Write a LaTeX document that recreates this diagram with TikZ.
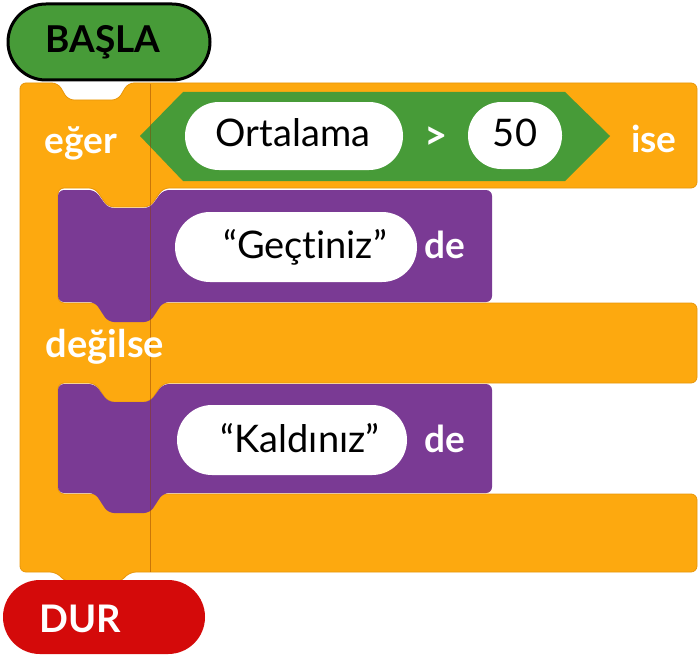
\documentclass[tikz,border=0pt]{standalone}
\usepackage{fontspec}
\setmainfont{Lato}[Ligatures={TeX,NoCommon}]
\definecolor{orangeC}{HTML}{FDA90F}
\definecolor{orangeB}{HTML}{E8960A}
\definecolor{purpleC}{HTML}{7A3A94}
\definecolor{greenC}{HTML}{479B38}
\definecolor{redC}{HTML}{D40A0A}
\definecolor{divC}{HTML}{8A3A00}
\tikzset{
  wlbl/.style={text=white, font=\fontsize{37}{42}\selectfont\bfseries, inner sep=0pt, anchor=base},
  blbl/.style={text=black, font=\fontsize{38}{42}\selectfont, inner sep=0pt, anchor=base},
  pill/.style={fill=white},
}
\begin{document}
\begin{tikzpicture}[x=1pt,y=-1pt]
\useasboundingbox (0,0) rectangle (700,658);
% orange C block
\fill[orangeC, draw=orangeB, line width=0.8pt, rounded corners=6pt]
 (20,83) -- (58,83) -- (68,100) -- (118,100) -- (128,83) -- (697,83) -- (697,188)
 -- (163,188) -- (150,207) -- (108,207) -- (95,188) -- (58,188) -- (58,303)
 -- (697,303) -- (697,383) -- (163,383) -- (150,402) -- (108,402) -- (95,383)
 -- (58,383) -- (58,494) -- (697,494) -- (697,572) -- (130,572) -- (120,582)
 -- (66,582) -- (56,572) -- (20,572) -- cycle;
% purple blocks
\fill[purpleC, rounded corners=6pt]
 (58,190) -- (95,190) -- (108,208) -- (150,208) -- (163,190) -- (492,190) -- (492,302)
 -- (163,302) -- (150,322) -- (108,322) -- (95,302) -- (58,302) -- cycle;
\fill[purpleC, rounded corners=6pt]
 (58,384) -- (95,384) -- (108,402) -- (150,402) -- (163,384) -- (492,384) -- (492,493)
 -- (163,493) -- (150,513) -- (108,513) -- (95,493) -- (58,493) -- cycle;
% green condition
\fill[greenC] (140,136) -- (183,92) -- (565,92) -- (610,136) -- (565,181) -- (183,181) -- cycle;
% divider
\draw[divC, opacity=0.45, line width=1pt] (150,84) -- (150,572);
% pills
\fill[pill, rounded corners=33.9pt] (185,102) rectangle (403,170);
\fill[pill, rounded corners=33.4pt] (468,102) rectangle (562,169);
\fill[pill, rounded corners=34.9pt] (175,212) rectangle (417,282);
\fill[pill, rounded corners=34.9pt] (177,405) rectangle (407,475);
% start / stop
\fill[greenC, draw=black, line width=3pt, rounded corners=37.9pt] (8,4) rectangle (210,80);
\fill[redC, rounded corners=36.9pt] (3,580) rectangle (205,654);
% texts
\node[blbl, font=\fontsize{37}{42}\selectfont\bfseries] (basla) at (103,53) {BAŞLA};
\node[wlbl] (eger) at (81,153) {eğer};
\node[blbl] (ort) at (293,146) {Ortalama};
\node[wlbl, font=\fontsize{40}{44}\selectfont\bfseries] (gt) at (436,149) {>};
\node[blbl] (elli) at (515,146) {50};
\node[wlbl] (ise) at (654,152) {ise};
\node[blbl] (gec) at (305,258) {“Geçt\kern0pt iniz”};
\node[wlbl] (de1) at (445,258) {de};
\node[wlbl, font=\fontsize{38}{42}\selectfont\bfseries] (degil) at (105,357) {değilse};
\node[blbl] (kal) at (300,452) {“Kaldınız”};
\node[wlbl] (de2) at (445,452) {de};
\node[wlbl, font=\fontsize{38}{42}\selectfont\bfseries] (dur) at (80,632) {DUR};
\end{tikzpicture}
\end{document}
